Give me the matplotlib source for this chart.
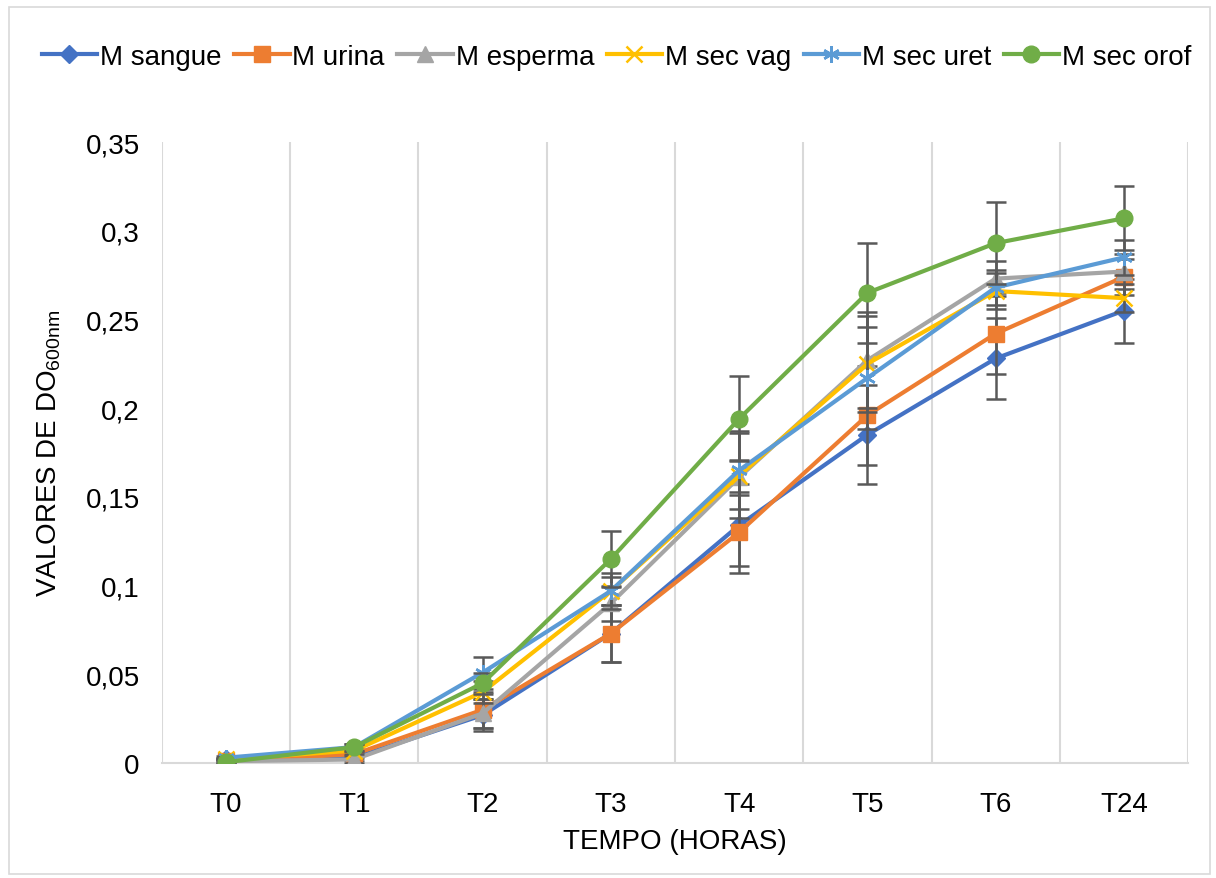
import numpy as np
import matplotlib
matplotlib.use("Agg")
import matplotlib.pyplot as plt
from matplotlib.patches import Rectangle

plt.rcParams['font.family'] = ['Liberation Sans', 'DejaVu Sans']

# dados
tempos = ["T0", "T1", "T2", "T3", "T4", "T5", "T6", "T24"]

m_sangue = [0.002, 0.003, 0.027, 0.073, 0.134, 0.185, 0.228, 0.255]
m_urina = [0.001, 0.005, 0.030, 0.073, 0.130, 0.196, 0.242, 0.274]
m_esperma = [0.001, 0.002, 0.028, 0.090, 0.161, 0.227, 0.273, 0.277]
m_sec_vag = [0.002, 0.007, 0.040, 0.097, 0.162, 0.225, 0.266, 0.262]
m_sec_uret = [0.003, 0.009, 0.051, 0.097, 0.165, 0.217, 0.268, 0.285]
m_sec_orof = [0.0005, 0.009, 0.045, 0.115, 0.194, 0.265, 0.293, 0.307]

err_sangue = [0.001, 0.002, 0.009, 0.016, 0.023, 0.028, 0.023, 0.018]
err_urina = [0.001, 0.002, 0.010, 0.016, 0.023, 0.028, 0.023, 0.010]
err_esperma = [0.001, 0.002, 0.008, 0.010, 0.010, 0.027, 0.010, 0.010]
err_sec_vag = [0.001, 0.002, 0.006, 0.010, 0.024, 0.027, 0.010, 0.008]
err_sec_uret = [0.001, 0.002, 0.009, 0.008, 0.022, 0.029, 0.010, 0.010]
err_sec_orof = [0.001, 0.002, 0.006, 0.016, 0.024, 0.028, 0.023, 0.018]

series = [
    ("M sangue", m_sangue, err_sangue, "#4472C4", "D", 9),
    ("M urina", m_urina, err_urina, "#ED7D31", "s", 11),
    ("M esperma", m_esperma, err_esperma, "#A5A5A5", "^", 11),
    ("M sec vag", m_sec_vag, err_sec_vag, "#FFC000", "x", 11),
    ("M sec uret", m_sec_uret, err_sec_uret, "#5B9BD5", (6, 2, 0), 12),
    ("M sec orof", m_sec_orof, err_sec_orof, "#70AD47", "o", 12),
]

fs = 20

fig = plt.figure(figsize=(12.16, 8.79), dpi=100)
ax = fig.add_axes([0.1332, 0.1308, 0.8438, 0.7065])

x = np.arange(len(tempos))
for i, (nome, vals, errs, cor, mk, ms) in enumerate(series):
    ax.errorbar(x, vals, yerr=errs, fmt="none", ecolor="#595959", elinewidth=1.8,
                capsize=7, capthick=1.8, zorder=2 + i * 2)
    ax.plot(x, vals, color=cor, marker=mk, markersize=ms, linewidth=3.0,
            markeredgewidth=1.8 if mk in ("x", (6, 2, 0)) else 1,
            markeredgecolor=cor, label=nome, zorder=3 + i * 2)

ax.set_xlim(-0.5, len(tempos) - 0.5)
ax.set_ylim(0, 0.35)
ax.set_xticks(x)
ax.set_xticklabels(tempos, fontsize=fs)
yt = np.arange(0, 0.351, 0.05)
ax.set_yticks(yt)
ax.set_yticklabels(["0" if v == 0 else ("%g" % round(v, 2)).replace(".", ",") for v in yt],
                   fontsize=fs)
ax.tick_params(length=0, pad=16)
ax.tick_params(axis="x", pad=20)

for b in np.arange(-0.5, len(tempos), 1.0):
    ax.axvline(b, color="#D9D9D9", linewidth=1.5, zorder=0)

for s in ["top", "right", "left"]:
    ax.spines[s].set_visible(False)
ax.spines["bottom"].set_color("#D9D9D9")
ax.spines["bottom"].set_linewidth(1.5)

ax.set_xlabel("TEMPO (HORAS)", fontsize=fs, labelpad=8)
ax.set_ylabel("VALORES DE DO$_{\\mathregular{600nm}}$", fontsize=fs, labelpad=16)

fig.legend(loc="center", bbox_to_anchor=(0.507, 0.934), ncol=6, frameon=False,
           fontsize=fs, handlelength=2.0, handletextpad=0.1, columnspacing=0.45)

fig.patches.append(Rectangle((0.007, 0.005), 0.988, 0.986, transform=fig.transFigure,
                             fill=False, edgecolor="#D9D9D9", linewidth=1.2))

fig.savefig("out.png", dpi=100)
